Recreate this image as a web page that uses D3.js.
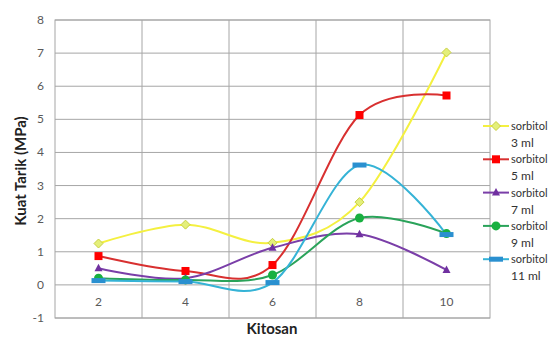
<!DOCTYPE html>
<html><head><meta charset="utf-8">
<script src="https://cdn.jsdelivr.net/npm/d3@7"></script>
<style>body{margin:0;background:#fff}svg{display:block}text{font-family:Lato,"Open Sans",sans-serif}</style>
</head><body><svg id="c" width="550" height="338"></svg>
<script>
const categories = ["2","4","6","8","10"];
const seriesNames = ["sorbitol 3 ml","sorbitol 5 ml","sorbitol 7 ml","sorbitol 9 ml","sorbitol 11 ml"];
const s3 = [1.25, 1.82, 1.27, 2.5, 7.02];
const s5 = [0.87, 0.42, 0.6, 5.13, 5.72];
const s7 = [0.5, 0.2, 1.12, 1.53, 0.45];
const s9 = [0.2, 0.15, 0.3, 2.02, 1.55];
const s11 = [0.13, 0.1, 0.07, 3.62, 1.52];
const yTicks = [-1,0,1,2,3,4,5,6,7,8];

const series = [
  {name:"3 ml", vals:s3, line:"#f4f040", fill:"#e4ef7a", stroke:"#c8d040", m:"diamond"},
  {name:"5 ml", vals:s5, line:"#d83030", fill:"#ff0000", stroke:"#e00000", m:"square"},
  {name:"7 ml", vals:s7, line:"#7a3ea8", fill:"#7030a0", stroke:"#7030a0", m:"triangle"},
  {name:"9 ml", vals:s9, line:"#2aa35a", fill:"#18b040", stroke:"#18b040", m:"circle"},
  {name:"11 ml", vals:s11, line:"#35b3d6", fill:"#2a90d0", stroke:"#2a90d0", m:"dash"}
];

const svg = d3.select("#c");
const L=55, R=490, T=20, B=318;
const x = d3.scaleBand().domain(categories).range([L,R]);
const y = d3.scaleLinear().domain([-1,8]).range([B,T]);

// grid
svg.append("g").selectAll("line").data(yTicks).join("line")
  .attr("x1",L).attr("x2",R).attr("y1",d=>y(d)).attr("y2",d=>y(d))
  .attr("stroke","#a6a6a6").attr("stroke-width",1);
svg.append("g").selectAll("line").data(categories.slice(1)).join("line")
  .attr("x1",d=>x(d)).attr("x2",d=>x(d)).attr("y1",T).attr("y2",B)
  .attr("stroke","#a6a6a6");
svg.append("rect").attr("x",L).attr("y",T).attr("width",R-L).attr("height",B-T)
  .attr("fill","none").attr("stroke","#a6a6a6");

// y tick labels
svg.append("g").selectAll("text").data(yTicks).join("text")
  .attr("x",L-11).attr("y",d=>y(d)+4).attr("text-anchor","end")
  .attr("font-size",12).attr("fill","#595959").text(d=>d);
// x tick labels
svg.append("g").selectAll("text").data(categories).join("text")
  .attr("x",d=>x(d)+x.bandwidth()/2).attr("y",y(0)+21).attr("text-anchor","middle")
  .attr("font-size",12).attr("fill","#595959").text(d=>d);

// titles
svg.append("text").attr("transform",`translate(26,171) rotate(-90)`)
  .attr("text-anchor","middle").attr("font-size",15).attr("font-weight","bold").attr("fill","#222").text("Kuat Tarik (MPa)");
svg.append("text").attr("x",272).attr("y",334).attr("text-anchor","middle")
  .attr("font-size",15).attr("font-weight","bold").attr("fill","#222").text("Kitosan");

const cx = i => x(categories[i]) + x.bandwidth()/2;
const line = d3.line().x((d,i)=>cx(i)).y(d=>y(d)).curve(d3.curveCatmullRom.alpha(0));

function marker(g, type, px, py, s){
  if(type==="diamond") g.append("path").attr("d",`M${px},${py-4.5}L${px+4.5},${py}L${px},${py+4.5}L${px-4.5},${py}Z`).attr("fill",s.fill).attr("stroke",s.stroke);
  else if(type==="square") g.append("rect").attr("x",px-4).attr("y",py-4).attr("width",8).attr("height",8).attr("fill",s.fill);
  else if(type==="triangle") g.append("path").attr("d",`M${px},${py-4.5}L${px+4},${py+3}L${px-4},${py+3}Z`).attr("fill",s.fill);
  else if(type==="circle") g.append("circle").attr("cx",px).attr("cy",py).attr("r",4.5).attr("fill",s.fill);
  else if(type==="dash") g.append("rect").attr("x",px-7).attr("y",py-2.5).attr("width",14).attr("height",5).attr("fill",s.fill);
}

series.forEach(s=>{
  svg.append("path").attr("d",line(s.vals)).attr("fill","none").attr("stroke",s.line).attr("stroke-width",2);
});
series.forEach(s=>{
  const g = svg.append("g");
  s.vals.forEach((v,i)=>marker(g,s.m,cx(i),y(v),s));
});

// legend
series.forEach((s,i)=>{
  const ly = 126 + i*33.3;
  const g = svg.append("g");
  g.append("line").attr("x1",483).attr("x2",509).attr("y1",ly).attr("y2",ly).attr("stroke",s.line).attr("stroke-width",2);
  marker(g,s.m,496,ly,s);
  g.append("text").attr("x",511).attr("y",ly+4).attr("font-size",11).attr("fill","#333").text(seriesNames[i].split(" ")[0]);
  g.append("text").attr("x",511).attr("y",ly+21).attr("font-size",12).attr("fill","#333").text(seriesNames[i].split(" ").slice(1).join(" "));
});
</script></body></html>
